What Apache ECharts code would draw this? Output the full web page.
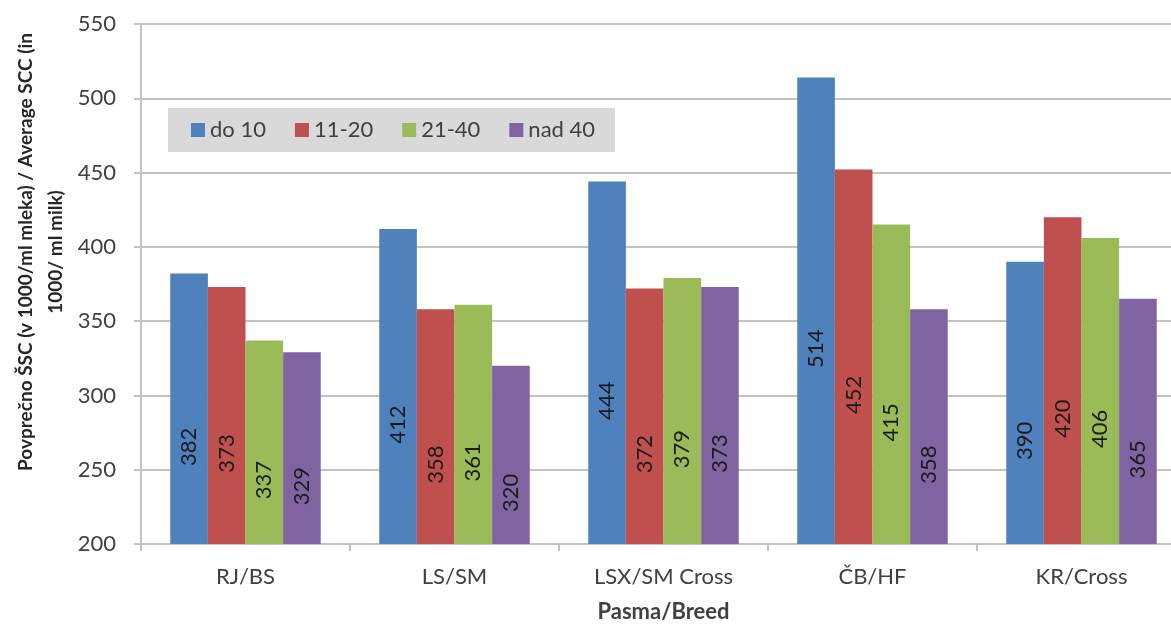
<!DOCTYPE html>
<html>
<head>
<meta charset="utf-8">
<title>Povprečno ŠSC po pasmah</title>
<script src="https://cdn.jsdelivr.net/npm/echarts@6/dist/echarts.min.js"></script>
<style>
  html, body { margin: 0; padding: 0; background: #ffffff; }
  #chart { width: 1171px; height: 624px; }
</style>
</head>
<body>
<div id="chart"></div>
<script>
// Breeds on the category axis
const categories = ['RJ/BS', 'LS/SM', 'LSX/SM Cross', 'ČB/HF', 'KR/Cross'];

// Herd-size groups (legend)
const groupNames = ['do 10', '11-20', '21-40', 'nad 40'];

// Average SCC (in 1000/ml milk) per breed, one array per group
const do10   = [382, 412, 444, 514, 390];
const g11_20 = [373, 358, 372, 452, 420];
const g21_40 = [337, 361, 379, 415, 406];
const nad40  = [329, 320, 373, 358, 365];

// Value axis range and step
const yMin = 200;
const yMax = 550;
const yStep = 50;

const groupValues = [do10, g11_20, g21_40, nad40];
const groupColors = ['#4F81BD', '#C0504D', '#9BBB59', '#8064A2'];

const FONT = 'Lato, "Open Sans", sans-serif';
const gridColor = '#c2c2c2';

const chart = echarts.init(document.getElementById('chart'), null, { renderer: 'canvas' });

chart.setOption({
  animation: false,
  backgroundColor: '#ffffff',
  textStyle: { fontFamily: FONT },
  grid: {
    left: 141, top: 24, width: 1045, height: 520,
    containLabel: false,
    outerBoundsMode: 'none'
  },
  legend: {
    data: groupNames,
    left: 168,
    top: 108,
    orient: 'horizontal',
    icon: 'rect',
    itemWidth: 14,
    itemHeight: 14,
    itemGap: 29,
    padding: [11, 20, 11, 23],
    backgroundColor: '#d9d9d9',
    textStyle: { fontSize: 22, color: '#404040', fontFamily: FONT }
  },
  xAxis: {
    type: 'category',
    data: categories,
    name: 'Pasma/Breed',
    nameLocation: 'middle',
    nameGap: 57,
    nameTextStyle: { fontSize: 22, fontWeight: 'bold', color: '#404040', fontFamily: FONT },
    axisLine: { lineStyle: { color: gridColor, width: 2 } },
    axisTick: { show: true, length: 7, alignWithLabel: false, lineStyle: { color: gridColor, width: 2 } },
    axisLabel: { fontSize: 22, color: '#404040', margin: 22, fontFamily: FONT }
  },
  yAxis: {
    type: 'value',
    min: yMin,
    max: yMax,
    interval: yStep,
    axisLine: { show: true, lineStyle: { color: gridColor, width: 2 } },
    axisTick: { show: true, length: 7, lineStyle: { color: gridColor, width: 2 } },
    axisLabel: { fontSize: 22, color: '#404040', margin: 25, fontFamily: FONT },
    splitLine: { show: true, lineStyle: { color: gridColor, width: 2 } }
  },
  graphic: [{
    type: 'text',
    x: 41,
    y: 252,
    rotation: Math.PI / 2,
    style: {
      text: 'Povprečno ŠSC (v 1000/ml mleka) / Average SCC (in\n1000/ ml milk)',
      font: 'bold 19px ' + FONT,
      fill: '#262626',
      align: 'center',
      verticalAlign: 'middle',
      lineHeight: 30
    }
  }],
  series: groupNames.map((name, i) => ({
    name: name,
    type: 'bar',
    data: groupValues[i],
    barGap: '0%',
    barCategoryGap: '28%',
    itemStyle: { color: groupColors[i] },
    label: {
      show: true,
      position: 'inside',
      rotate: 90,
      // offset is in the rotated text frame: negative x moves the label down
      offset: [-38, 0],
      fontSize: 22,
      color: '#1a1a1a',
      fontFamily: FONT
    }
  }))
});
</script>
</body>
</html>
